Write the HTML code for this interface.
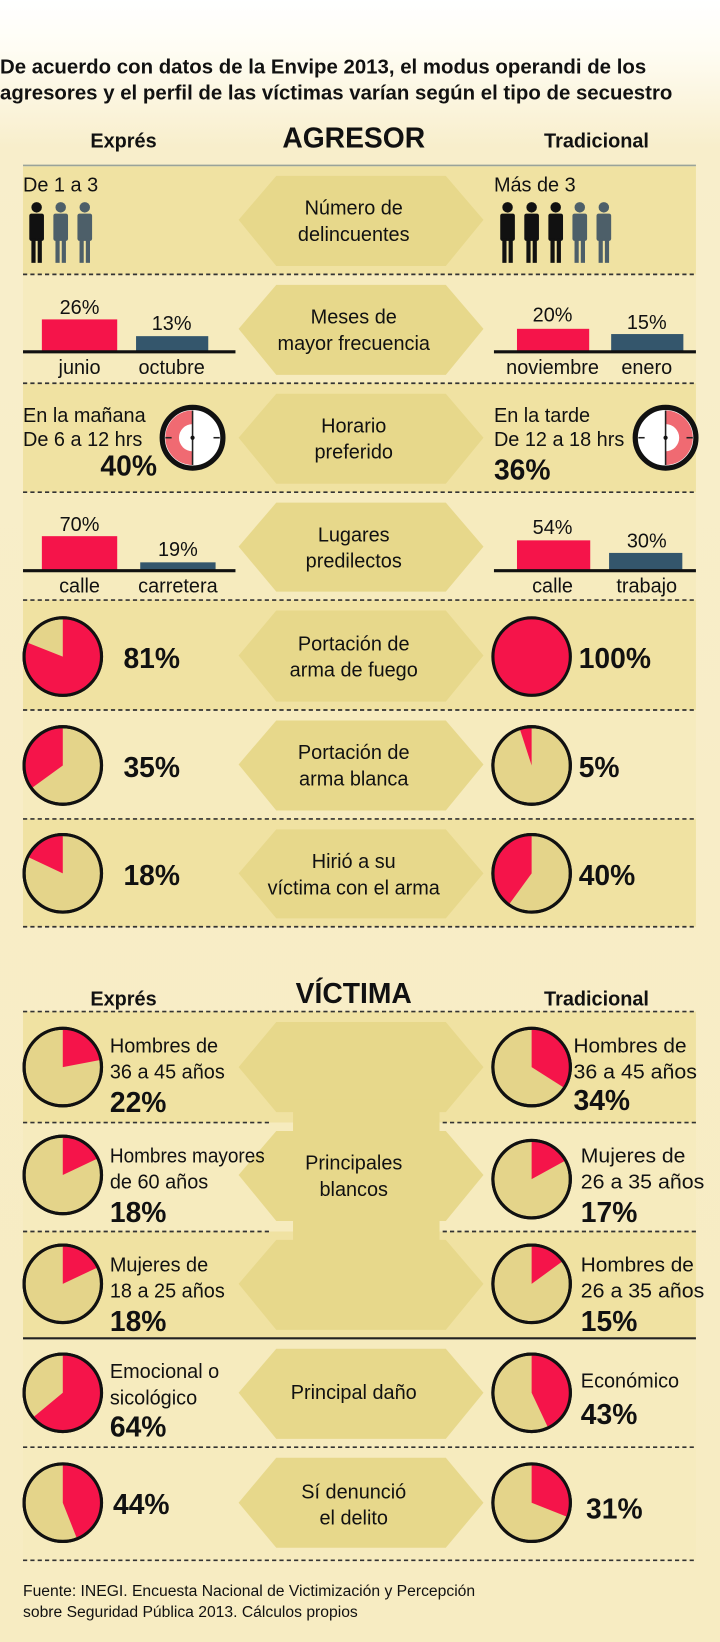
<!DOCTYPE html>
<html><head><meta charset="utf-8"><style>
html,body{margin:0;padding:0;background:#f7edc4;}
svg{display:block;}
text{font-family:"Liberation Sans Narrow","Liberation Sans",sans-serif;fill:#111;}
.b{font-weight:bold;}
.t{font-size:19px;}
.c{text-anchor:middle;}
</style></head><body>
<svg width="720" height="1642" viewBox="0 0 688 1568" preserveAspectRatio="none" xmlns="http://www.w3.org/2000/svg">
<defs>
<linearGradient id="bg" x1="0" y1="0" x2="0" y2="1">
<stop offset="0" stop-color="#ffffff"/><stop offset="0.03" stop-color="#fffdf4"/><stop offset="0.09" stop-color="#f8eecb"/><stop offset="1" stop-color="#f7ecc2"/>
</linearGradient>
<g id="fig"><circle cx="0" cy="-26" r="5"/><rect x="-7" y="-20" width="14" height="26" rx="2"/><rect x="-5" y="4" width="4" height="23"/><rect x="1" y="4" width="4" height="23"/></g>
</defs>
<rect width="688" height="1568" fill="url(#bg)"/>
<text class="b" x="0" y="70" font-size="19.5">De acuerdo con datos de la Envipe 2013, el modus operandi de los</text>
<text class="b" x="0" y="95" font-size="19.5">agresores y el perfil de las víctimas varían según el tipo de secuestro</text>

<text class="b c" x="118" y="141" font-size="19">Exprés</text>
<text class="b c" x="338" y="141" font-size="27">AGRESOR</text>
<text class="b c" x="570" y="141" font-size="19">Tradicional</text>
<line x1="22" y1="158" x2="665" y2="158" stroke="#9aa39a" stroke-width="1.5"/>

<rect x="22" y="159" width="643" height="103" fill="#f0e2a2"/>
<rect x="22" y="262" width="643" height="104" fill="#f6ebbe"/>
<rect x="22" y="366" width="643" height="104" fill="#f0e2a2"/>
<rect x="22" y="470" width="643" height="103" fill="#f6ebbe"/>
<rect x="22" y="573" width="643" height="105" fill="#f0e2a2"/>
<rect x="22" y="678" width="643" height="104" fill="#f6ebbe"/>
<rect x="22" y="782" width="643" height="103" fill="#f0e2a2"/>
<rect x="22" y="966" width="643" height="106" fill="#f0e2a2"/>
<rect x="22" y="1072" width="643" height="104" fill="#f6ebbe"/>
<rect x="22" y="1176" width="643" height="102" fill="#f0e2a2"/>
<rect x="22" y="1278" width="643" height="104" fill="#f6ebbe"/>
<rect x="22" y="1382" width="643" height="108" fill="#f6ebbe"/>

<g fill="#e7d88b">
<polygon points="228,210 264,168 426,168 462,210 426,254 264,254"/>
<polygon points="228,314 264,272 426,272 462,314 426,358 264,358"/>
<polygon points="228,418 264,376 426,376 462,418 426,462 264,462"/>
<polygon points="228,522 264,480 426,480 462,522 426,565 264,565"/>
<polygon points="228,626 264,583 426,583 462,626 426,670 264,670"/>
<polygon points="228,730 264,688 426,688 462,730 426,774 264,774"/>
<polygon points="228,834 264,792 426,792 462,834 426,877 264,877"/>
<polygon points="228,1019 264,976 426,976 462,1019 426,1062 264,1062"/>
<polygon points="228,1122 264,1080 426,1080 462,1122 426,1166 264,1166"/>
<polygon points="228,1226 264,1184 426,1184 462,1226 426,1270 264,1270"/>
<rect x="280" y="1050" width="140" height="150" />
<polygon points="228,1330 264,1288 426,1288 462,1330 426,1374 264,1374"/>
<polygon points="228,1435 264,1392 426,1392 462,1435 426,1478 264,1478"/>
</g>

<g stroke="#333" stroke-width="1.6" stroke-dasharray="4,3">
<line x1="22" y1="262" x2="665" y2="262"/>
<line x1="22" y1="366" x2="665" y2="366"/>
<line x1="22" y1="470" x2="665" y2="470"/>
<line x1="22" y1="573" x2="665" y2="573"/>
<line x1="22" y1="678" x2="665" y2="678"/>
<line x1="22" y1="782" x2="665" y2="782"/>
<line x1="22" y1="885" x2="665" y2="885"/>
<line x1="22" y1="966" x2="665" y2="966"/>
<line x1="22" y1="1072" x2="258" y2="1072"/>
<line x1="423" y1="1072" x2="665" y2="1072"/>
<line x1="22" y1="1176" x2="258" y2="1176"/>
<line x1="423" y1="1176" x2="665" y2="1176"/>
<line x1="22" y1="1382" x2="665" y2="1382"/>
<line x1="22" y1="1490" x2="665" y2="1490"/>
</g>
<line x1="22" y1="1278" x2="665" y2="1278" stroke="#222" stroke-width="2"/>

<text class="c t" x="338" y="205">Número de</text><text class="c t" x="338" y="230">delincuentes</text>
<text class="c t" x="338" y="309">Meses de</text><text class="c t" x="338" y="334">mayor frecuencia</text>
<text class="c t" x="338" y="413">Horario</text><text class="c t" x="338" y="438">preferido</text>
<text class="c t" x="338" y="517">Lugares</text><text class="c t" x="338" y="542">predilectos</text>
<text class="c t" x="338" y="621">Portación de</text><text class="c t" x="338" y="646">arma de fuego</text>
<text class="c t" x="338" y="725">Portación de</text><text class="c t" x="338" y="750">arma blanca</text>
<text class="c t" x="338" y="829">Hirió a su</text><text class="c t" x="338" y="854">víctima con el arma</text>
<text class="c t" x="338" y="1117">Principales</text><text class="c t" x="338" y="1142">blancos</text>
<text class="c t" x="338" y="1336">Principal daño</text>
<text class="c t" x="338" y="1431">Sí denunció</text><text class="c t" x="338" y="1456">el delito</text>

<text class="t" x="22" y="183">De 1 a 3</text>
<text class="t" x="472" y="183">Más de 3</text>
<use href="#fig" x="35" y="224" fill="#111"/><use href="#fig" x="58" y="224" fill="#4d5f69"/><use href="#fig" x="81" y="224" fill="#4d5f69"/>
<use href="#fig" x="485" y="224" fill="#111"/><use href="#fig" x="508" y="224" fill="#111"/><use href="#fig" x="531" y="224" fill="#111"/><use href="#fig" x="554" y="224" fill="#4d5f69"/><use href="#fig" x="577" y="224" fill="#4d5f69"/>

<rect x="40" y="305" width="72" height="31" fill="#f5144a"/><rect x="130" y="321" width="69" height="15" fill="#34566c"/>
<line x1="22" y1="336" x2="225" y2="336" stroke="#111" stroke-width="3"/>
<text class="t c" x="76" y="300">26%</text><text class="t c" x="164" y="315">13%</text>
<text class="t c" x="76" y="357">junio</text><text class="t c" x="164" y="357">octubre</text>
<rect x="494" y="314" width="69" height="22" fill="#f5144a"/><rect x="584" y="319" width="69" height="17" fill="#34566c"/>
<line x1="472" y1="336" x2="665" y2="336" stroke="#111" stroke-width="3"/>
<text class="t c" x="528" y="307">20%</text><text class="t c" x="618" y="314">15%</text>
<text class="t c" x="528" y="357">noviembre</text><text class="t c" x="618" y="357">enero</text>

<text class="t" x="22" y="403">En la mañana</text><text class="t" x="22" y="426">De 6 a 12 hrs</text>
<text class="b" x="150" y="454" font-size="27" text-anchor="end">40%</text>
<text class="t" x="472" y="403">En la tarde</text><text class="t" x="472" y="426">De 12 a 18 hrs</text>
<text class="b" x="472" y="458" font-size="27">36%</text>
<g transform="translate(184,418)">
<circle r="29" fill="#fff" stroke="#111" stroke-width="5"/>
<path d="M0,-26 A26,26 0 0 0 0,26 L0,13 A13,13 0 0 1 0,-13 Z" fill="#f06a72"/>
<g stroke="#222" stroke-width="1.5"><line x1="0" y1="-26" x2="0" y2="26"/><line x1="-26" y1="0" x2="-20" y2="0"/><line x1="26" y1="0" x2="20" y2="0"/></g>
<circle r="2" fill="#111"/>
</g>
<g transform="translate(636,418)">
<circle r="29" fill="#fff" stroke="#111" stroke-width="5"/>
<path d="M0,-26 A26,26 0 0 1 0,26 L0,13 A13,13 0 0 0 0,-13 Z" fill="#f06a72"/>
<g stroke="#222" stroke-width="1.5"><line x1="0" y1="-26" x2="0" y2="26"/><line x1="-26" y1="0" x2="-20" y2="0"/><line x1="26" y1="0" x2="20" y2="0"/></g>
<circle r="2" fill="#111"/>
</g>

<rect x="40" y="512" width="72" height="33" fill="#f5144a"/><rect x="134" y="537" width="72" height="8" fill="#34566c"/>
<line x1="22" y1="545" x2="225" y2="545" stroke="#111" stroke-width="3"/>
<text class="t c" x="76" y="507">70%</text><text class="t c" x="170" y="531">19%</text>
<text class="t c" x="76" y="566">calle</text><text class="t c" x="170" y="566">carretera</text>
<rect x="494" y="516" width="70" height="29" fill="#f5144a"/><rect x="582" y="528" width="70" height="17" fill="#34566c"/>
<line x1="472" y1="545" x2="665" y2="545" stroke="#111" stroke-width="3"/>
<text class="t c" x="528" y="510">54%</text><text class="t c" x="618" y="523">30%</text>
<text class="t c" x="528" y="566">calle</text><text class="t c" x="618" y="566">trabajo</text>

<g stroke="#111" stroke-width="3">
<g transform="translate(60,627)"><circle r="37" fill="#e4d48a"/><path d="M0,0 V-37 A37,37 0 1 1 -34.4,-13.6 Z" fill="#f5144a" stroke="none"/><circle r="37" fill="none"/></g>
<g transform="translate(508,627)"><circle r="37" fill="#f5144a"/></g>
<g transform="translate(60,731)"><circle r="37" fill="#e4d48a"/><path d="M0,0 V-37 A37,37 0 0 0 -29.9,21.7 Z" fill="#f5144a" stroke="none"/><circle r="37" fill="none"/></g>
<g transform="translate(508,731)"><circle r="37" fill="#e4d48a"/><path d="M0,0 V-37 A37,37 0 0 0 -11.4,-35.2 Z" fill="#f5144a" stroke="none"/><circle r="37" fill="none"/></g>
<g transform="translate(60,834)"><circle r="37" fill="#e4d48a"/><path d="M0,0 V-37 A37,37 0 0 0 -33.5,-15.8 Z" fill="#f5144a" stroke="none"/><circle r="37" fill="none"/></g>
<g transform="translate(508,834)"><circle r="37" fill="#e4d48a"/><path d="M0,0 V-37 A37,37 0 0 0 -21.7,29.9 Z" fill="#f5144a" stroke="none"/><circle r="37" fill="none"/></g>
<g transform="translate(60,1019)"><circle r="37" fill="#e4d48a"/><path d="M0,0 V-37 A37,37 0 0 1 36.3,-6.9 Z" fill="#f5144a" stroke="none"/><circle r="37" fill="none"/></g>
<g transform="translate(508,1019)"><circle r="37" fill="#e4d48a"/><path d="M0,0 V-37 A37,37 0 0 1 31.2,19.8 Z" fill="#f5144a" stroke="none"/><circle r="37" fill="none"/></g>
<g transform="translate(60,1122)"><circle r="37" fill="#e4d48a"/><path d="M0,0 V-37 A37,37 0 0 1 33.5,-15.8 Z" fill="#f5144a" stroke="none"/><circle r="37" fill="none"/></g>
<g transform="translate(508,1126)"><circle r="37" fill="#e4d48a"/><path d="M0,0 V-37 A37,37 0 0 1 32.4,-17.8 Z" fill="#f5144a" stroke="none"/><circle r="37" fill="none"/></g>
<g transform="translate(60,1226)"><circle r="37" fill="#e4d48a"/><path d="M0,0 V-37 A37,37 0 0 1 33.5,-15.8 Z" fill="#f5144a" stroke="none"/><circle r="37" fill="none"/></g>
<g transform="translate(508,1226)"><circle r="37" fill="#e4d48a"/><path d="M0,0 V-37 A37,37 0 0 1 29.9,-21.8 Z" fill="#f5144a" stroke="none"/><circle r="37" fill="none"/></g>
<g transform="translate(60,1330)"><circle r="37" fill="#e4d48a"/><path d="M0,0 V-37 A37,37 0 1 1 -28.5,23.6 Z" fill="#f5144a" stroke="none"/><circle r="37" fill="none"/></g>
<g transform="translate(508,1330)"><circle r="37" fill="#e4d48a"/><path d="M0,0 V-37 A37,37 0 0 1 15.8,33.5 Z" fill="#f5144a" stroke="none"/><circle r="37" fill="none"/></g>
<g transform="translate(60,1435)"><circle r="37" fill="#e4d48a"/><path d="M0,0 V-37 A37,37 0 0 1 13.6,34.4 Z" fill="#f5144a" stroke="none"/><circle r="37" fill="none"/></g>
<g transform="translate(508,1435)"><circle r="37" fill="#e4d48a"/><path d="M0,0 V-37 A37,37 0 0 1 34.4,13.6 Z" fill="#f5144a" stroke="none"/><circle r="37" fill="none"/></g>
</g>

<text class="b" x="118" y="638" font-size="27">81%</text>
<text class="b" x="553" y="638" font-size="27">100%</text>
<text class="b" x="118" y="742" font-size="27">35%</text>
<text class="b" x="553" y="742" font-size="27">5%</text>
<text class="b" x="118" y="845" font-size="27">18%</text>
<text class="b" x="553" y="845" font-size="27">40%</text>

<text class="b c" x="118" y="960" font-size="19">Exprés</text>
<text class="b c" x="338" y="958" font-size="27">VÍCTIMA</text>
<text class="b c" x="570" y="960" font-size="19">Tradicional</text>

<text class="t" x="105" y="1005">Hombres de</text><text class="t" x="105" y="1030">36 a 45 años</text><text class="b" x="105" y="1062" font-size="27">22%</text>
<text class="t" x="548" y="1005" textLength="108" lengthAdjust="spacingAndGlyphs">Hombres de</text><text class="t" x="548" y="1030" textLength="118" lengthAdjust="spacingAndGlyphs">36 a 45 años</text><text class="b" x="548" y="1060" font-size="27">34%</text>
<text class="t" x="105" y="1110" textLength="148" lengthAdjust="spacingAndGlyphs">Hombres mayores</text><text class="t" x="105" y="1135">de 60 años</text><text class="b" x="105" y="1167" font-size="27">18%</text>
<text class="t" x="555" y="1110" textLength="100" lengthAdjust="spacingAndGlyphs">Mujeres de</text><text class="t" x="555" y="1135" textLength="118" lengthAdjust="spacingAndGlyphs">26 a 35 años</text><text class="b" x="555" y="1167" font-size="27">17%</text>
<text class="t" x="105" y="1214">Mujeres de</text><text class="t" x="105" y="1239">18 a 25 años</text><text class="b" x="105" y="1271" font-size="27">18%</text>
<text class="t" x="555" y="1214" textLength="108" lengthAdjust="spacingAndGlyphs">Hombres de</text><text class="t" x="555" y="1239" textLength="118" lengthAdjust="spacingAndGlyphs">26 a 35 años</text><text class="b" x="555" y="1271" font-size="27">15%</text>
<text class="t" x="105" y="1316">Emocional o</text><text class="t" x="105" y="1341">sicológico</text><text class="b" x="105" y="1372" font-size="27">64%</text>
<text class="t" x="555" y="1325">Económico</text><text class="b" x="555" y="1360" font-size="27">43%</text>
<text class="b" x="108" y="1446" font-size="27">44%</text>
<text class="b" x="560" y="1450" font-size="27">31%</text>

<text x="22" y="1524" font-size="15">Fuente: INEGI. Encuesta Nacional de Victimización y Percepción</text>
<text x="22" y="1544" font-size="15">sobre Seguridad Pública 2013. Cálculos propios</text>
</svg>
</body></html>
